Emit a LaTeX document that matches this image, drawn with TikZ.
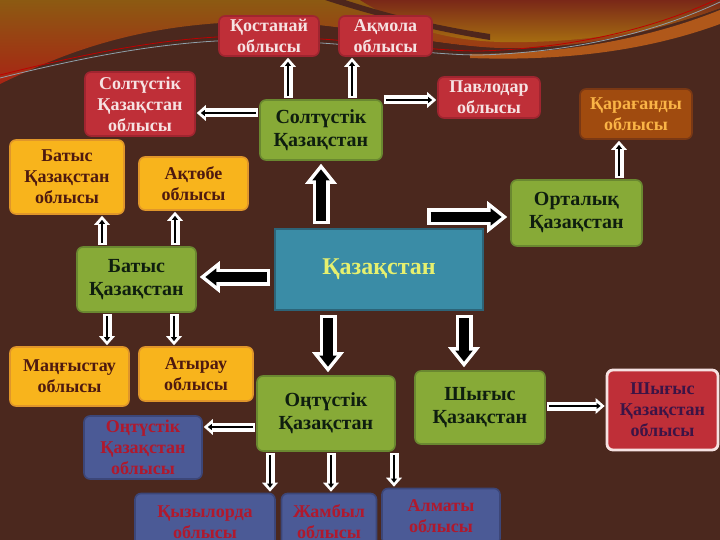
\documentclass[tikz,border=0pt]{standalone}
\usepackage{fontspec}
\setmainfont{Liberation Serif}
\usetikzlibrary{arrows.meta,calc}
\definecolor{bgc}{HTML}{4B281E}
\definecolor{redf}{HTML}{BF2F38}
\definecolor{redd}{HTML}{A02530}
\definecolor{redt}{HTML}{F6E2E2}
\definecolor{yelf}{HTML}{F8B41C}
\definecolor{yeld}{HTML}{E0962A}
\definecolor{yelt}{HTML}{4E1A10}
\definecolor{grnf}{HTML}{87AA37}
\definecolor{grnd}{HTML}{6A8830}
\definecolor{grnt}{HTML}{0F1E0F}
\definecolor{bluf}{HTML}{4B5A96}
\definecolor{blud}{HTML}{3C4678}
\definecolor{blut}{HTML}{B0192D}
\definecolor{karf}{HTML}{A04B0F}
\definecolor{kard}{HTML}{7A3814}
\definecolor{kart}{HTML}{FAB446}
\definecolor{kazf}{HTML}{3A8CA6}
\definecolor{kazd}{HTML}{2D6478}
\definecolor{kazt}{HTML}{E6F06E}
\definecolor{shyt}{HTML}{3C1446}
\definecolor{swtop}{HTML}{8C5A12}
\definecolor{swred}{HTML}{A82414}
\definecolor{swdkred}{HTML}{7A2818}
\definecolor{swgold}{HTML}{A87010}
\definecolor{swband}{HTML}{B0581A}
\definecolor{swdark}{HTML}{4E261C}
\definecolor{linegray}{HTML}{8FA0AA}
\begin{document}
\begin{tikzpicture}[x=1pt,y=-1pt,
  box/.style={rounded corners=6pt, line width=1.6pt, align=center, inner sep=1pt,
    font=\bfseries\fontsize{18}{21}\selectfont},
  redb/.style={box, fill=redf, draw=redd, text=redt},
  yelb/.style={box, fill=yelf, draw=yeld, text=yelt},
  grnb/.style={box, fill=grnf, draw=grnd, text=grnt, font=\bfseries\fontsize{20}{23}\selectfont},
  blub/.style={box, fill=bluf, draw=blud, text=blut},
  karb/.style={box, fill=karf, draw=kard, text=kart},
  shyb/.style={box, fill=redf, draw=redt, line width=2.8pt, text=shyt},
  kazb/.style={fill=kazf, draw=kazd, line width=1.6pt, text=kazt,
    font=\bfseries\fontsize{24}{28}\selectfont},
  bigw/.style={draw=white, line width=17pt, shorten <=4pt, shorten >=3pt,
    -{Triangle[length=20pt,width=32pt,line width=0pt]}},
  bigk/.style={draw=black, line width=10pt, shorten <=7.5pt, shorten >=8.6pt,
    -{Triangle[length=11pt,width=17.5pt,line width=0pt]}},
  smw/.style={draw=white, line width=9pt, shorten <=1pt, shorten >=1pt,
    -{Triangle[length=9pt,width=16pt,line width=0pt]}},
  smk/.style={draw=black, line width=2.4pt, shorten <=3pt, shorten >=5pt,
    -{Triangle[length=4pt,width=6pt,line width=0pt]}}
]
\useasboundingbox (0,0) rectangle (720,540);
\clip (0,0) rectangle (720,540);
% background
\fill[bgc] (0,0) rectangle (720,540);
% top swoosh
\shade[top color=swtop, bottom color=swred]
  (0,0) -- (720,0) -- (720,8) .. controls (680,22) and (600,50) .. (500,48)
  .. controls (420,45) and (330,18) .. (240,22)
  .. controls (130,26) and (60,55) .. (0,84) -- cycle;
\shade[top color=swdkred, bottom color=swgold]
  (360,0) -- (720,0) -- (720,8) .. controls (680,24) and (600,44) .. (500,42)
  .. controls (440,40) and (400,25) .. (360,0) -- cycle;
\fill[swdark]
  (240,23) .. controls (330,19) and (420,44) .. (500,49)
  .. controls (440,56) and (380,50) .. (330,46) .. controls (300,44) and (260,40) .. (240,40) -- cycle;
\fill[swdark]
  (325,0) -- (345,0) .. controls (400,18) and (450,28) .. (490,34) -- (490,40)
  .. controls (440,32) and (380,18) .. (325,0) -- cycle;
\fill[swband]
  (470,54) .. controls (580,54) and (660,34) .. (720,10) -- (720,24)
  .. controls (660,46) and (580,62) .. (470,58) -- cycle;
\draw[red!75!black, line width=0.8pt]
  (0,75) .. controls (80,55) and (160,38) .. (240,36) .. controls (340,36) and (420,51) .. (480,51)
  .. controls (580,48) and (660,26) .. (720,-2);
\draw[linegray, line width=0.8pt]
  (0,78) .. controls (80,58) and (160,42) .. (240,40) .. controls (340,40) and (420,55) .. (480,55)
  .. controls (580,52) and (660,30) .. (720,2);

% nodes
\node[redb, minimum width=100pt, minimum height=40pt] (kos) at (269,36) {Қостанай\\облысы};
\node[redb, minimum width=93pt, minimum height=40pt] (akm) at (385.5,36) {Ақмола\\облысы};
\node[redb, minimum width=110pt, minimum height=64pt] (skobl) at (140,104) {Солтүстік\\Қазақстан\\облысы};
\node[grnb, minimum width=122pt, minimum height=60pt] (sk) at (321,130) {Солтүстік\\Қазақстан};
\node[redb, minimum width=102pt, minimum height=41pt] (pav) at (489,97.5) {Павлодар\\облысы};
\node[karb, minimum width=112pt, minimum height=50pt] (kar) at (636,114) {Қарағанды\\облысы};
\node[yelb, minimum width=114pt, minimum height=74pt] (btobl) at (67,177) {Батыс\\Қазақстан\\облысы};
\node[yelb, minimum width=109pt, minimum height=53pt] (akt) at (193.5,183.5) {Ақтөбе\\облысы};
\node[grnb, minimum width=131pt, minimum height=66pt] (ort) at (576.5,213) {Орталық\\Қазақстан};
\node[grnb, minimum width=119pt, minimum height=65pt] (bat) at (136.5,279.5) {Батыс\\Қазақстан};
\node[kazb, minimum width=208pt, minimum height=81pt] (kaz) at (379,269.5) {Қазақстан};
\node[yelb, minimum width=119pt, minimum height=59pt] (man) at (69.5,376.5) {Маңғыстау\\облысы};
\node[yelb, minimum width=114pt, minimum height=54pt] (atr) at (196,374) {Атырау\\облысы};
\node[grnb, minimum width=138pt, minimum height=75pt] (ont) at (326,413.5) {Оңтүстік\\Қазақстан};
\node[grnb, minimum width=130pt, minimum height=73pt] (shy) at (480,407.5) {Шығыс\\Қазақстан};
\node[shyb, minimum width=111pt, minimum height=80pt] (shyobl) at (662.5,410) {Шығыс\\Қазақстан\\облысы};
\node[blub, minimum width=118pt, minimum height=63pt] (ontobl) at (143,447.5) {Оңтүстік\\Қазақстан\\облысы};
\node[blub, minimum width=140pt, minimum height=57pt] (kyz) at (205,522) {Қызылорда\\облысы};
\node[blub, minimum width=95pt, minimum height=57pt] (zham) at (329,522) {Жамбыл\\облысы};
\node[blub, minimum width=118pt, minimum height=56pt] (alm) at (441,516.5) {Алматы\\облысы};

% lanes
\coordinate (xkos) at (288,0);
\coordinate (xakm) at (352,0);
\coordinate (ysko) at (0,113);
\coordinate (ypav) at (0,100);
\coordinate (xkar) at (619,0);
\coordinate (xbto) at (102,0);
\coordinate (xakt) at (175,0);
\coordinate (xman) at (107,0);
\coordinate (xatr) at (174,0);
\coordinate (yono) at (0,427);
\coordinate (xkyz) at (270,0);
\coordinate (xzha) at (331,0);
\coordinate (xalm) at (394,0);
\coordinate (yshy) at (0,406);
\coordinate (yort) at (0,217);
\coordinate (ybat) at (0,277);
\coordinate (xont) at (328,0);
\coordinate (xshy) at (464,0);
\coordinate (ortst) at (423,217);

% big arrows
\foreach \s/\e in {{kaz.north -| sk.south}/{sk.south},
                   {ortst}/{ort.west |- yort},
                   {kaz.west |- ybat}/{bat.east |- ybat},
                   {kaz.south -| xont}/{ont.north -| xont},
                   {kaz.south -| xshy}/{shy.north -| xshy}}{
  \draw[bigw] (\s) -- (\e);
  \draw[bigk] (\s) -- (\e);
}
% small arrows
\foreach \s/\e in {{sk.north -| xkos}/{kos.south -| xkos},
                   {sk.north -| xakm}/{akm.south -| xakm},
                   {sk.west |- ysko}/{skobl.east |- ysko},
                   {sk.east |- ypav}/{pav.west |- ypav},
                   {ort.north -| xkar}/{kar.south -| xkar},
                   {bat.north -| xbto}/{btobl.south -| xbto},
                   {bat.north -| xakt}/{akt.south -| xakt},
                   {bat.south -| xman}/{man.north -| xman},
                   {bat.south -| xatr}/{atr.north -| xatr},
                   {ont.west |- yono}/{ontobl.east |- yono},
                   {ont.south -| xkyz}/{kyz.north -| xkyz},
                   {ont.south -| xzha}/{zham.north -| xzha},
                   {ont.south -| xalm}/{alm.north -| xalm},
                   {shy.east |- yshy}/{shyobl.west |- yshy}}{
  \draw[smw] (\s) -- (\e);
  \draw[smk] (\s) -- (\e);
}
\end{tikzpicture}
\end{document}
